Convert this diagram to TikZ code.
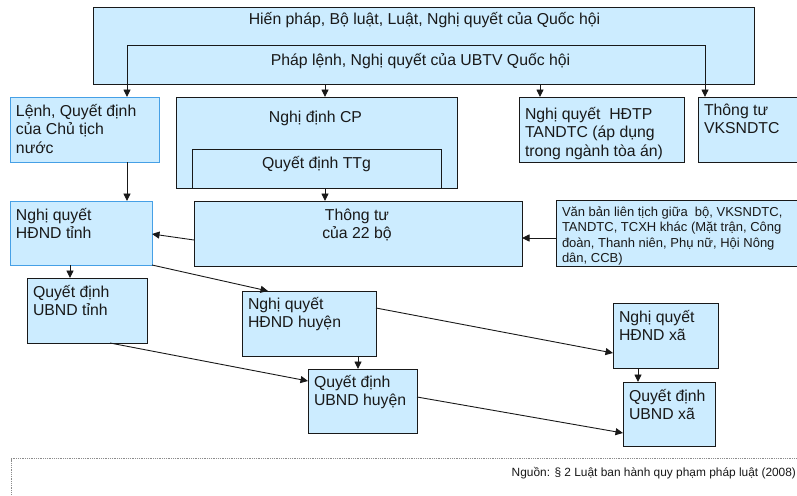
\documentclass[tikz,border=0pt]{standalone}
\usepackage{fontspec}
\setmainfont{Liberation Sans}
\usetikzlibrary{arrows.meta}
\definecolor{boxfill}{RGB}{204,236,255}
\definecolor{boxline}{RGB}{25,25,25}
\definecolor{blueline}{RGB}{70,160,230}
\definecolor{dotcol}{RGB}{140,140,140}
\newcommand\topstrut{\rule{0pt}{16pt}}
\newcommand\smstrut{\rule{0pt}{13pt}}
\newcommand\mkbox[6]{\node[#6, minimum width={#4pt-#2pt}, minimum height={#5pt-#3pt}, anchor=north west] (#1) at (#2,#3) {};}
\tikzset{
  box/.style={draw=boxline, fill=boxfill, line width=0.9pt, inner sep=0pt, outer sep=0pt},
  bluebox/.style={box, draw=blueline},
  txt/.style={font=\fontsize{15.8}{18.5}\selectfont, inner sep=0pt, outer sep=0pt, align=left, anchor=north west, text=boxline},
  ctxt/.style={font=\fontsize{15.8}{18.5}\selectfont, inner sep=0pt, outer sep=0pt, anchor=base, text=boxline},
  smalltxt/.style={font=\fontsize{13}{15.6}\selectfont, inner sep=0pt, outer sep=0pt, align=left, anchor=north west, text=boxline},
  srctxt/.style={font=\fontsize{11.9}{14}\selectfont, inner sep=0pt, outer sep=0pt, anchor=base east, text=boxline},
  arr/.style={draw=boxline, line width=0.9pt, -{Triangle[length=7.5pt,width=7pt]}},
  arrboth/.style={draw=boxline, line width=0.9pt, {Triangle[length=7.5pt,width=7pt]}-{Triangle[length=7.5pt,width=7pt]}},
  dotline/.style={draw=dotcol, line width=0.8pt, dash pattern=on 0.9pt off 0.9pt},
}
\begin{document}
\begin{tikzpicture}[x=1pt, y=-1pt]
\clip (0,0) rectangle (797,495);
\fill[white] (0,0) rectangle (797,495);

% helper coordinates
\coordinate (c70) at (70,0);
\coordinate (c110) at (110,0);
\coordinate (c127) at (127,0);
\coordinate (c268) at (268,0);
\coordinate (c325) at (325,0);
\coordinate (c358) at (358,0);
\coordinate (c540) at (540,0);
\coordinate (c638) at (638,0);
\coordinate (c705) at (705,0);
\coordinate (r45) at (0,45);
\coordinate (r234) at (0,234);
\coordinate (r238) at (0,238);
\coordinate (r240) at (0,240);
\coordinate (r308) at (0,308);
\coordinate (r353) at (0,353);
\coordinate (r381) at (0,381);
\coordinate (r397) at (0,397);
\coordinate (r433) at (0,433);

% boxes
\mkbox{top}{93}{7}{754}{84}{box}
\mkbox{lenh}{10}{97}{159}{162}{bluebox}
\mkbox{cp}{176}{97}{457}{188}{box}
\mkbox{ttg}{192}{149}{441}{188}{box}
\mkbox{hdtp}{519}{97}{684}{162}{box}
\mkbox{vks}{698}{97}{830}{162}{box}
\mkbox{hdndt}{10}{201}{152}{265}{bluebox}
\mkbox{tt22}{194}{201}{522}{266}{box}
\mkbox{vb}{556}{200}{830}{266}{box}
\mkbox{ubndt}{27}{278}{147}{343}{box}
\mkbox{hdndh}{242}{291}{376}{356}{box}
\mkbox{hdndx}{613}{303}{718}{368}{box}
\mkbox{ubndh}{308}{369}{417}{433}{box}
\mkbox{ubndx}{623}{382}{715}{446}{box}

% texts
\node[ctxt] (thp) at (424.5,25) {Hiến pháp, Bộ luật, Luật, Nghị quyết của Quốc hội};
\node[ctxt] (tpl) at (420.5,65) {Pháp lệnh, Nghị quyết của UBTV Quốc hội};
\node[txt] (tlenh) at (16,100) {\topstrut Lệnh, Quyết định\\của Chủ tịch\\nước};
\node[ctxt] (tcp) at (315.5,122) {Nghị định CP};
\node[ctxt] (tttg) at (316.5,168) {Quyết định TTg};
\node[txt] (thdtp) at (525,103) {\topstrut Nghị quyết\ \ HĐTP\\TANDTC (áp dụng\\trong ngành tòa án)};
\node[txt] (tvks) at (704,99) {\topstrut Thông tư\\VKSNDTC};
\node[txt] (thdndt) at (16,204) {\topstrut Nghị quyết\\HĐND tỉnh};
\node[txt, align=center, anchor=north] (ttt22) at (357,204) {\topstrut Thông tư\\của 22 bộ};
\node[smalltxt] (tvb) at (562,203) {\smstrut Văn bản liên tịch giữa\ \ bộ, VKSNDTC,\\TANDTC, TCXH khác (Mặt trận, Công\\đoàn, Thanh niên, Phụ nữ, Hội Nông\\dân, CCB)};
\node[txt] (tubndt) at (33,281) {\topstrut Quyết định\\UBND tỉnh};
\node[txt] (thdndh) at (248,293) {\topstrut Nghị quyết\\HĐND huyện};
\node[txt] (tubndh) at (314,371) {\topstrut Quyết định\\UBND huyện};
\node[txt] (thdndx) at (619,306) {\topstrut Nghị quyết\\HĐND xã};
\node[txt] (tubndx) at (629,385) {\topstrut Quyết định\\UBND xã};

% connectors
\draw[arrboth] (c127 |- lenh.north) -- (c127 |- r45) -- (c705 |- r45) -- (c705 |- vks.north);
\draw[arr] (c325 |- top.south) -- (c325 |- cp.north);
\draw[arr] (c540 |- top.south) -- (c540 |- hdtp.north);
\draw[arr] (c127 |- lenh.south) -- (c127 |- hdndt.north);
\draw[arr] (c325 |- cp.south) -- (c325 |- tt22.north);
\draw[arr] (tt22.west |- r240) -- (hdndt.east |- r234);
\draw[arr] (vb.west |- r238) -- (tt22.east |- r238);
\draw[arr] (c70 |- hdndt.south) -- (c70 |- ubndt.north);
\draw[arr] (hdndt.south east) -- (c268 |- hdndh.north);
\draw[arr] (hdndh.east |- r308) -- (hdndx.west |- r353);
\draw[arr] (c358 |- hdndh.south) -- (c358 |- ubndh.north);
\draw[arr] (c110 |- ubndt.south) -- (ubndh.west |- r381);
\draw[arr] (ubndh.east |- r397) -- (ubndx.west |- r433);
\draw[arr] (c638 |- hdndx.south) -- (c638 |- ubndx.north);

% source frame
\draw[dotline] (11,500) -- (11,458.5) -- (800,458.5);
\node[srctxt] (src) at (796,476.5) {Nguồn: § 2 Luật ban hành quy phạm pháp luật (2008)};
\end{tikzpicture}
\end{document}
